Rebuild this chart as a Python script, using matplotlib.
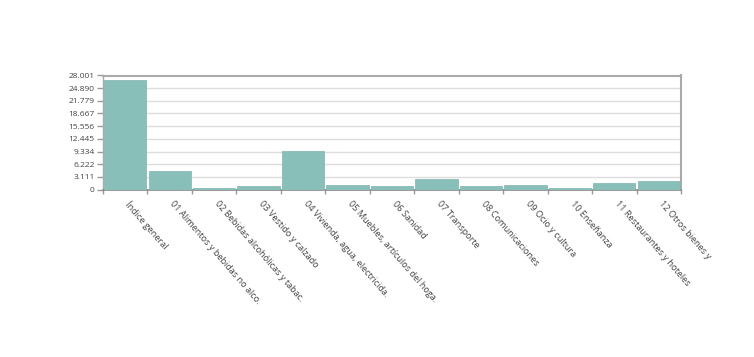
import matplotlib.pyplot as plt
import numpy as np

plt.rcParams['font.family'] = ['Open Sans', 'DejaVu Sans']

categories = ["Índice general", "01 Alimentos y bebidas no alco.",
              "02 Bebidas alcohólicas y tabac.", "03 Vestido y calzado",
              "04 Vivienda, agua, electricida.", "05 Muebles, artículos del hoga.",
              "06 Sanidad", "07 Transporte", "08 Comunicaciones",
              "09 Ocio y cultura", "10 Enseñanza",
              "11 Restaurantes y hoteles", "12 Otros bienes y"]
values = [26.9, 4.5, 0.45, 0.95, 9.5, 1.1, 0.9, 2.65, 0.8, 1.03, 0.35, 1.65, 2.0]
y_max = 28.001
y_labels = ["0", "3.111", "6.222", "9.334", "12.445", "15.556",
            "18.667", "21.779", "24.890", "28.001"]

fig = plt.figure(figsize=(7.54, 3.57), dpi=100)
ax = fig.add_axes([103 / 754, 1 - 189.5 / 357, 578 / 754, 114 / 357])

x = np.arange(len(categories))
ax.bar(x, values, width=0.95, color="#88bfb8", edgecolor="#7fb3ac", linewidth=0.5, zorder=3)

ax.set_xlim(-0.5, len(categories) - 0.5)
ax.set_ylim(0, y_max)
yt = np.linspace(0, y_max, 10)
ax.set_yticks(yt)
ax.set_yticklabels(y_labels, fontsize=6, color="#444444")
ax.yaxis.grid(True, color="#dddddd", linewidth=1, zorder=0)

# ticks on slot boundaries, labels at centers
ax.set_xticks(np.arange(len(categories) + 1) - 0.5)
ax.set_xticklabels([])
ax.tick_params(axis="x", length=3, color="#999999", width=1)
ax.tick_params(axis="y", length=4, color="#999999", width=1, pad=2)
for i, lab in enumerate(categories):
    ax.text(i + 0.12, -2.4, lab, rotation=-49, ha="left", va="top",
            rotation_mode="anchor", fontsize=6.6, color="#444444")

for s in ["top", "right"]:
    ax.spines[s].set_color("#aaaaaa")
    ax.spines[s].set_linewidth(1.5)
ax.spines["left"].set_color("#aaaaaa")
ax.spines["left"].set_linewidth(1)
ax.spines["bottom"].set_color("#888888")
ax.spines["bottom"].set_linewidth(1.2)

fig.savefig("out.png", dpi=100)
